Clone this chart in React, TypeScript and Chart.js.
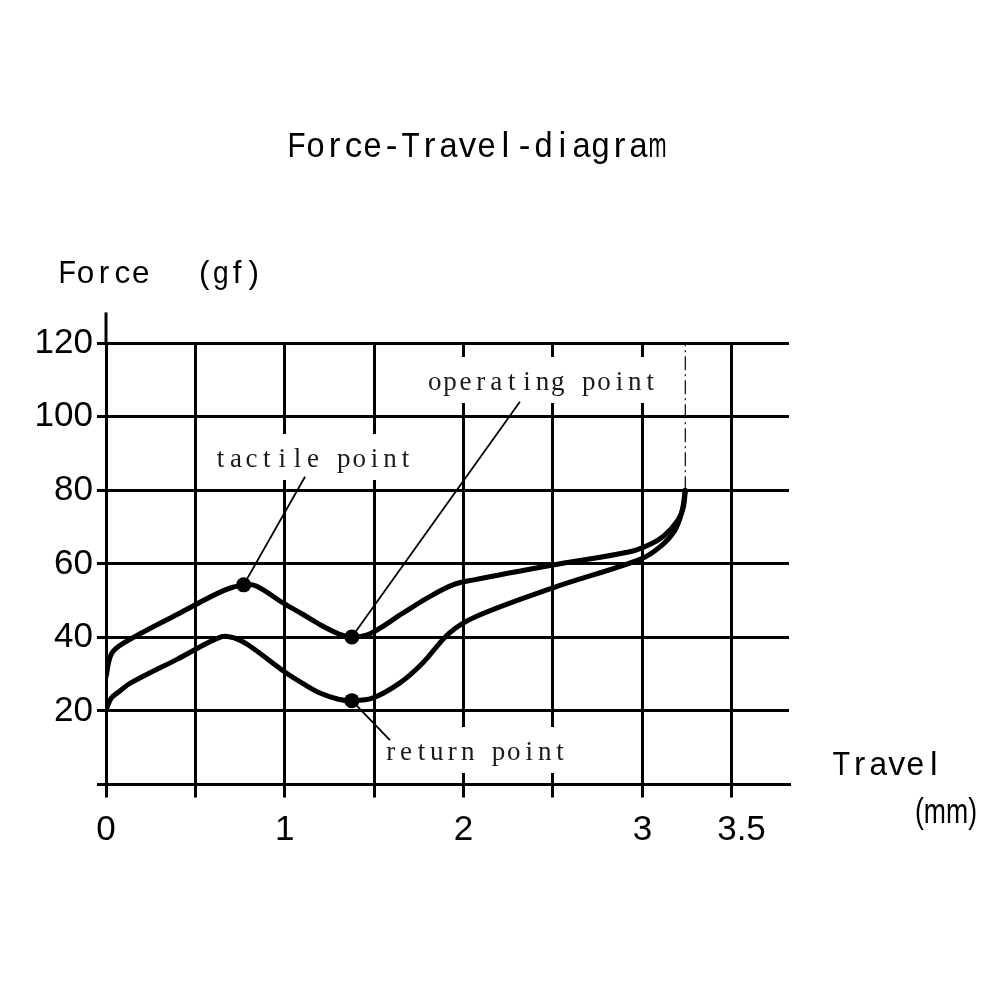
import React, { useEffect, useRef } from "react";
import { Chart, registerables } from "chart.js";

Chart.register(...registerables);

// ---------- data ----------
const TITLE = "Force-Travel-diagram";
const Y_TITLE = ["Force", "(gf)"];
const X_TITLE = ["Travel", "(mm)"];

const PRESS_TRAVEL = [0, 0.03, 0.1, 0.4, 0.66, 0.77, 0.84, 0.99, 1.1, 1.2, 1.3, 1.375, 1.48, 1.66, 1.81, 1.94, 2.05, 2.5, 2.93, 3.05, 3.12, 3.2, 3.23, 3.24];
const PRESS_FORCE = [29.3, 35.5, 38.5, 46.3, 52.8, 54.3, 54.0, 49.4, 46.3, 43.4, 41.0, 40.1, 41.1, 46.6, 51.1, 54.3, 55.6, 59.7, 63.3, 65.5, 67.6, 72, 75.6, 80];

const RETURN_TRAVEL = [0, 0.03, 0.08, 0.134, 0.4, 0.647, 0.72, 0.8, 1.0, 1.1, 1.2, 1.3, 1.375, 1.49, 1.64, 1.77, 1.92, 2.07, 2.5, 2.99, 3.1, 3.18, 3.22, 3.24];
const RETURN_FORCE = [20.3, 23.5, 25.5, 27.5, 34.1, 40.2, 39.8, 37.8, 30.6, 27.5, 24.8, 23.2, 22.8, 23.5, 27.5, 33, 41.2, 45.7, 53.5, 61.3, 64.7, 69.0, 74.0, 80];

const KEY_NAMES = ["tactile point", "operating point", "return point"];
const KEY_TRAVEL = [0.77, 1.375, 1.375];
const KEY_FORCE = [54.3, 40.1, 22.8];
const LEADER_TRAVEL = [1.113, 2.315, 1.588];
const LEADER_FORCE = [83.7, 104.1, 12.1];
const LABEL_TRAVEL = [0.598, 1.795, 1.549];
const LABEL_FORCE = [86.35, 107.3, 6.66];

const FULL_STROKE_TRAVEL = 3.24;
const FULL_STROKE_FORCE = [80, 120];

const X_LABELED = [0, 1, 2, 3, 3.5];
const Y_LABELED = [20, 40, 60, 80, 100, 120];
const AXIS_ARROW_TOP = 128.4;

// ---------- helpers ----------
function cellText(ctx: CanvasRenderingContext2D, text: string, left: number, baseline: number, cell: number, font: string) {
  ctx.font = font;
  ctx.textAlign = "center";
  ctx.textBaseline = "alphabetic";
  Array.from(text).forEach((ch, i) => {
    if (ch === " ") return;
    const w = ctx.measureText(ch).width;
    const sx = Math.min(1, (cell * 0.95) / w);
    ctx.save();
    ctx.translate(left + cell * (i + 0.5), baseline);
    ctx.scale(sx, 1);
    ctx.fillText(ch, 0, 0);
    ctx.restore();
  });
}

const LABEL_CELL = 15.4;
const LABEL_FONT = '27px "Liberation Serif"';

const decor = {
  id: "decor",
  beforeDatasetsDraw(chart: any) {
    const { ctx, scales } = chart;
    const x = scales.x;
    const y = scales.y;
    ctx.save();
    ctx.fillStyle = "#ffffff";
    KEY_NAMES.forEach((name, i) => {
      const left = x.getPixelForValue(LABEL_TRAVEL[i]);
      const base = y.getPixelForValue(LABEL_FORCE[i]);
      ctx.fillRect(left - 2, base - 33, name.length * LABEL_CELL + 4, 46);
    });
    ctx.restore();
  },
  afterDraw(chart: any) {
    const { ctx, scales } = chart;
    const x = scales.x;
    const y = scales.y;
    ctx.save();
    // y-axis extension above the last gridline
    ctx.strokeStyle = "#000";
    ctx.lineWidth = 3;
    ctx.beginPath();
    const x0 = x.getPixelForValue(0);
    ctx.moveTo(x0, y.getPixelForValue(120));
    ctx.lineTo(x0, y.getPixelForValue(AXIS_ARROW_TOP));
    ctx.stroke();

    // annotation labels
    ctx.fillStyle = "#1a1a1a";
    KEY_NAMES.forEach((name, i) => {
      const left = x.getPixelForValue(LABEL_TRAVEL[i]);
      const base = y.getPixelForValue(LABEL_FORCE[i]);
      cellText(ctx, name, left, base, LABEL_CELL, LABEL_FONT);
    });

    // titles
    ctx.fillStyle = "#000";
    cellText(ctx, TITLE, 287, 157, 19, '35px "Liberation Sans"');
    cellText(ctx, Y_TITLE[0], 58, 283, 18.4, '31.5px "Liberation Sans"');
    cellText(ctx, Y_TITLE[1], 196, 283, 16.5, '31.5px "Liberation Sans"');
    cellText(ctx, X_TITLE[0], 832, 775, 18.5, '34px "Liberation Sans"');

    // (mm) condensed
    ctx.font = '35px "Liberation Sans"';
    ctx.textAlign = "left";
    ctx.textBaseline = "alphabetic";
    const w = ctx.measureText(X_TITLE[1]).width;
    ctx.translate(915, 823);
    ctx.scale(62 / w, 1);
    ctx.fillText(X_TITLE[1], 0, 0);
    ctx.restore();
  },
};

function pts(xs: number[], ys: number[]) {
  return xs.map((v, i) => ({ x: v, y: ys[i] }));
}

export default function App() {
  const ref = useRef<HTMLCanvasElement | null>(null);

  useEffect(() => {
    if (!ref.current) return;
    Chart.defaults.font.family = '"Liberation Sans"';
    const leaderSets = KEY_NAMES.map((name, i) => ({
      label: name + " leader",
      data: [
        { x: KEY_TRAVEL[i], y: KEY_FORCE[i] },
        { x: LEADER_TRAVEL[i], y: LEADER_FORCE[i] },
      ],
      showLine: true,
      borderColor: "#000",
      borderWidth: 1.8,
      pointRadius: 0,
      tension: 0,
    }));

    const curve = {
      showLine: true,
      borderColor: "#000",
      borderWidth: 5,
      pointRadius: 0,
      tension: 0.35,
      borderCapStyle: "round",
      borderJoinStyle: "round",
    };

    const chart = new Chart(ref.current, {
      type: "scatter",
      data: {
        datasets: [
          { label: "press", data: pts(PRESS_TRAVEL, PRESS_FORCE), ...curve },
          { label: "return", data: pts(RETURN_TRAVEL, RETURN_FORCE), ...curve },
          ...leaderSets,
          {
            label: "full stroke",
            data: [
              { x: FULL_STROKE_TRAVEL, y: FULL_STROKE_FORCE[0] },
              { x: FULL_STROKE_TRAVEL, y: FULL_STROKE_FORCE[1] },
            ],
            showLine: true,
            borderColor: "#000",
            borderWidth: 1.2,
            borderDash: [14, 4, 2, 4],
            pointRadius: 0,
          },
          {
            label: "key points",
            data: pts(KEY_TRAVEL, KEY_FORCE),
            showLine: false,
            pointRadius: 7.5,
            pointBackgroundColor: "#000",
            pointBorderWidth: 0,
          },
        ] as any,
      },
      options: {
        responsive: false,
        animation: false,
        devicePixelRatio: 1,
        layout: { padding: { top: 343.3, right: 211, left: 0, bottom: 0 } },
        plugins: {
          legend: { display: false },
          tooltip: { enabled: false },
          title: { display: false },
        },
        scales: {
          x: {
            type: "linear",
            min: 0,
            max: 3.82,
            afterFit(s: any) {
              s.height = 215.5;
            },
            ticks: {
              stepSize: 0.5,
              includeBounds: false,
              autoSkip: false,
              maxRotation: 0,
              color: "#000",
              padding: 12,
              font: { family: '"Liberation Sans"', size: 35 },
              callback: (v: any) => {
                const n = Number(v);
                if (!X_LABELED.includes(n)) return "";
                return n === 3.5 ? "  3.5" : String(n);
              },
            },
            grid: { color: "#000", lineWidth: 3, tickLength: 13, drawTicks: true },
            border: { color: "#000", width: 3 },
          },
          y: {
            type: "linear",
            min: 0,
            max: 120,
            afterFit(s: any) {
              s.width = 106;
            },
            ticks: {
              stepSize: 20,
              color: "#000",
              padding: 4,
              font: { family: '"Liberation Sans"', size: 35 },
              callback: (v: any) => (Y_LABELED.includes(Number(v)) ? String(v) : ""),
            },
            grid: { color: "#000", lineWidth: 3, tickLength: 9, drawTicks: true },
            border: { color: "#000", width: 3 },
          },
        },
      } as any,
      plugins: [decor],
    });
    return () => chart.destroy();
  }, []);

  return (
    <div style={{ position: "fixed", left: 0, top: 0, width: 1000, height: 1000, background: "#fff" }}>
      <canvas ref={ref} width={1000} height={1000} style={{ display: "block" }} />
    </div>
  );
}
